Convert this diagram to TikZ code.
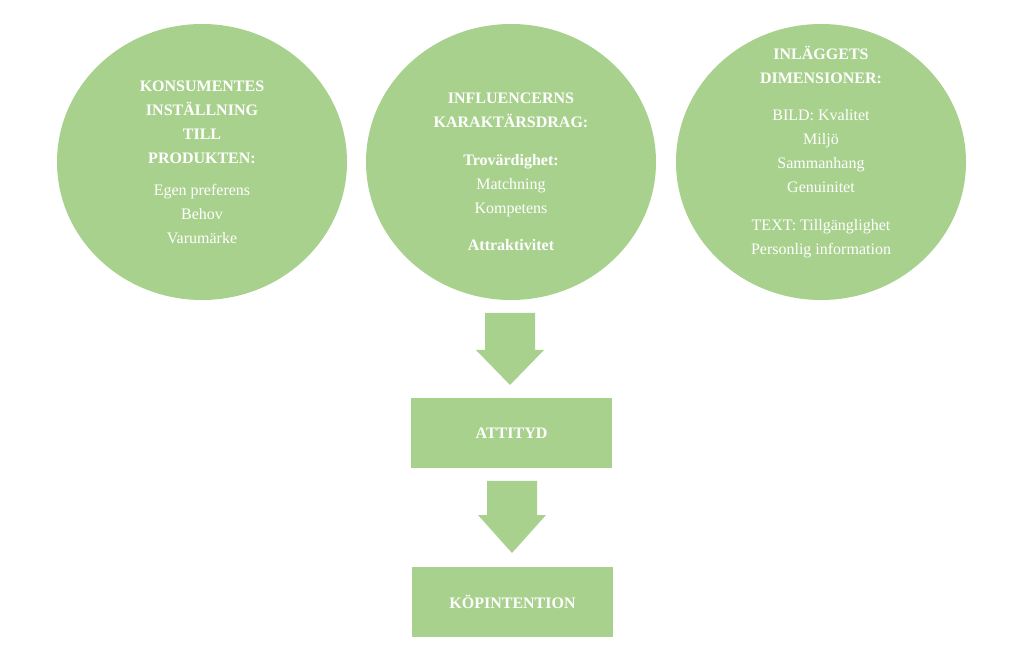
\documentclass[tikz,border=0pt]{standalone}
\usepackage{fontspec}
\setmainfont{Liberation Serif}
\usetikzlibrary{positioning}
\definecolor{leaf}{HTML}{A9D18E}

\begin{document}
\begin{tikzpicture}[x=0.75pt,y=-0.75pt,
                    label/.style={text=white,align=center,font=\fontsize{12}{18}\selectfont},
                    box/.style={rectangle,fill=leaf,minimum width=151pt,minimum height=53pt,
                                text=white,font=\fontsize{12}{18}\selectfont\bfseries}]
  \useasboundingbox (0,0) rectangle (1024,655);

  \fill[leaf] (202,162) ellipse (145 and 138);
  \fill[leaf] (511,162) ellipse (145 and 138);
  \fill[leaf] (821,162) ellipse (145 and 138);

  \node[label] (cons) at (202,162)
     {\textbf{KONSUMENTES}\\\textbf{INSTÄLLNING}\\\textbf{TILL}\\\textbf{PRODUKTEN:}\\[6pt]
      Egen preferens\\Behov\\Varumärke};
  \node[label] (infl) at (511,172)
     {\textbf{INFLUENCERNS}\\\textbf{KARAKTÄRSDRAG:}\\[10pt]\textbf{Trovärdighet:}\\
      Matchning\\Kompetens\\[10pt]\textbf{Attraktivitet}};
  \node[label] (post) at (821,152)
     {\textbf{INLÄGGETS}\\\textbf{DIMENSIONER:}\\[10pt]BILD: Kvalitet\\Miljö\\Sammanhang\\
      Genuinitet\\[10pt]TEXT: Tillgänglighet\\Personlig information};

  \node[box] (att) at (511.5,433) {ATTITYD};
  \node[box] (kop) at (512.5,602) {KÖPINTENTION};

  % block arrows
  \fill[leaf] (485,313) -- (535,313) -- (535,350) -- (544,350) -- (510,385)
              -- (476,350) -- (485,350) -- cycle;
  \fill[leaf] (487,481) -- (537,481) -- (537,515) -- (546,515) -- (512,553)
              -- (478,515) -- (487,515) -- cycle;
\end{tikzpicture}
\end{document}
